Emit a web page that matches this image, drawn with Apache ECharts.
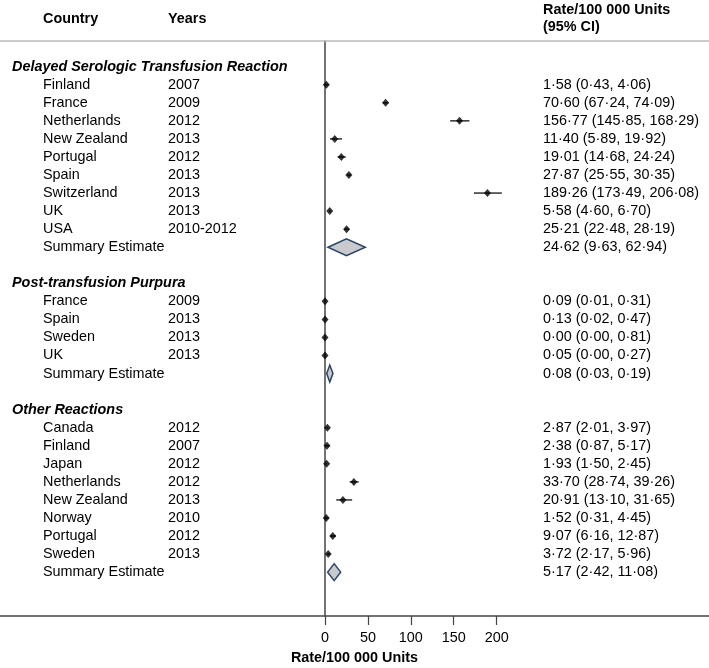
<!DOCTYPE html>
<html>
<head>
<meta charset="utf-8">
<script src="https://cdn.jsdelivr.net/npm/echarts@6/dist/echarts.min.js"></script>
<style>html,body{margin:0;padding:0;background:#fff;}#c{width:709px;height:668px;}</style>
</head>
<body>
<div id="c"></div>
<script>
// ---------- data ----------
const groupTitles = ['Delayed Serologic Transfusion Reaction', 'Post-transfusion Purpura', 'Other Reactions'];

const dstrCountries = ['Finland', 'France', 'Netherlands', 'New Zealand', 'Portugal', 'Spain', 'Switzerland', 'UK', 'USA'];
const dstrYears = ['2007', '2009', '2012', '2013', '2012', '2013', '2013', '2013', '2010-2012'];
const dstrEst = [1.58, 70.60, 156.77, 11.40, 19.01, 27.87, 189.26, 5.58, 25.21];
const dstrLo = [0.43, 67.24, 145.85, 5.89, 14.68, 25.55, 173.49, 4.60, 22.48];
const dstrHi = [4.06, 74.09, 168.29, 19.92, 24.24, 30.35, 206.08, 6.70, 28.19];
const dstrSummary = [24.62, 9.63, 62.94];          // estimate, lo, hi (text)
const dstrDiamond = [3.5, 25, 47];                  // drawn diamond: left, centre, right

const ptpCountries = ['France', 'Spain', 'Sweden', 'UK'];
const ptpYears = ['2009', '2013', '2013', '2013'];
const ptpEst = [0.09, 0.13, 0.00, 0.05];
const ptpLo = [0.01, 0.02, 0.00, 0.00];
const ptpHi = [0.31, 0.47, 0.81, 0.27];
const ptpSummary = [0.08, 0.03, 0.19];
const ptpDiamond = [2, 5.6, 9.3];

const othCountries = ['Canada', 'Finland', 'Japan', 'Netherlands', 'New Zealand', 'Norway', 'Portugal', 'Sweden'];
const othYears = ['2012', '2007', '2012', '2012', '2013', '2010', '2012', '2013'];
const othEst = [2.87, 2.38, 1.93, 33.70, 20.91, 1.52, 9.07, 3.72];
const othLo = [2.01, 0.87, 1.50, 28.74, 13.10, 0.31, 6.16, 2.17];
const othHi = [3.97, 5.17, 2.45, 39.26, 31.65, 4.45, 12.87, 5.96];
const othSummary = [5.17, 2.42, 11.08];
const othDiamond = [3.1, 10.7, 18.3];

const xTicks = [0, 50, 100, 150, 200];
const summaryLabel = 'Summary Estimate';
const axisTitle = 'Rate/100 000 Units';

// ---------- rows ----------
function fmt(v) { return v.toFixed(2).replace('.', '\u00B7'); }
function ciText(e, l, h) { return fmt(e) + ' (' + fmt(l) + ', ' + fmt(h) + ')'; }

const rows = [];
let rowIdx = 0;
function addGroup(title, countries, years, est, lo, hi, summary, diamond) {
  rows.push({ type: 'header', r: rowIdx++, text: title });
  for (let i = 0; i < countries.length; i++) {
    rows.push({ type: 'study', r: rowIdx++, country: countries[i], year: years[i],
      est: est[i], lo: lo[i], hi: hi[i], label: ciText(est[i], lo[i], hi[i]) });
  }
  rows.push({ type: 'summary', r: rowIdx++, label: ciText(summary[0], summary[1], summary[2]), diamond: diamond });
  rowIdx++;
}
addGroup(groupTitles[0], dstrCountries, dstrYears, dstrEst, dstrLo, dstrHi, dstrSummary, dstrDiamond);
addGroup(groupTitles[1], ptpCountries, ptpYears, ptpEst, ptpLo, ptpHi, ptpSummary, ptpDiamond);
addGroup(groupTitles[2], othCountries, othYears, othEst, othLo, othHi, othSummary, othDiamond);

const studies = rows.filter(d => d.type === 'study');
const summaries = rows.filter(d => d.type === 'summary');

const FONT = "'Liberation Sans', Arial, sans-serif";
const FS = 14.4;

function textEl(x, y, text, extra) {
  return { type: 'text', x: x, y: y, silent: true,
    style: Object.assign({ text: text, fontFamily: FONT, fontSize: FS, fill: '#000',
      align: 'left', verticalAlign: 'middle' }, extra || {}) };
}

const chart = echarts.init(document.getElementById('c'), null, { renderer: 'canvas' });

const X_MIN = -378.6, X_MAX = 447.4;

chart.setOption({
  backgroundColor: '#fff',
  animation: false,
  grid: { left: 0, right: 0, top: 41, bottom: 52, containLabel: false, outerBoundsMode: 'none' },
  xAxis: [{
    type: 'value', min: X_MIN, max: X_MAX, position: 'bottom',
    axisLine: { show: true, onZero: false, lineStyle: { color: '#444', width: 1.5 } },
    axisTick: { show: true, customValues: xTicks, length: 9, lineStyle: { color: '#444', width: 1.2 } },
    axisLabel: { show: true, customValues: xTicks, fontSize: FS, fontFamily: FONT, color: '#000', margin: 15 },
    splitLine: { show: false },
    name: axisTitle, nameLocation: 'middle', nameGap: 35,
    nameTextStyle: { fontSize: FS, fontFamily: FONT, fontWeight: 'bold', color: '#000' }
  }, {
    type: 'value', min: X_MIN, max: X_MAX, position: 'top',
    axisLine: { show: true, onZero: false, lineStyle: { color: '#bbb', width: 1.5 } },
    axisTick: { show: false }, axisLabel: { show: false }, splitLine: { show: false }
  }],
  yAxis: {
    type: 'value', inverse: true, min: -1.424, max: 30.43,
    axisLine: { show: true, onZero: true, onZeroAxisIndex: 0, lineStyle: { color: '#444', width: 1.5 } },
    axisTick: { show: false }, axisLabel: { show: false }, splitLine: { show: false }
  },
  graphic: [
    { type: 'text', left: 43, top: 12, style: { text: 'Country', fontFamily: FONT, fontSize: FS, fontWeight: 'bold', fill: '#000' } },
    { type: 'text', left: 168, top: 12, style: { text: 'Years', fontFamily: FONT, fontSize: FS, fontWeight: 'bold', fill: '#000' } },
    { type: 'text', left: 543, top: 3, style: { text: 'Rate/100 000 Units', fontFamily: FONT, fontSize: FS, fontWeight: 'bold', fill: '#000' } },
    { type: 'text', left: 543, top: 20, style: { text: '(95% CI)', fontFamily: FONT, fontSize: FS, fontWeight: 'bold', fill: '#000' } }
  ],
  series: [
    {
      // text columns
      type: 'custom', xAxisIndex: 0, yAxisIndex: 0, clip: false, silent: true,
      data: rows.map(d => [0, d.r]),
      renderItem: function (params, api) {
        const d = rows[params.dataIndex];
        const y = api.coord([0, d.r])[1];
        const children = [];
        if (d.type === 'header') {
          children.push(textEl(12, y, d.text, { fontWeight: 'bold', fontStyle: 'italic' }));
        } else if (d.type === 'study') {
          children.push(textEl(43, y, d.country));
          children.push(textEl(168, y, d.year));
          children.push(textEl(543, y, d.label));
        } else {
          children.push(textEl(43, y, summaryLabel));
          children.push(textEl(543, y, d.label));
        }
        return { type: 'group', children: children };
      }
    },
    {
      // confidence interval lines
      type: 'custom', xAxisIndex: 0, yAxisIndex: 0, silent: true,
      data: studies.map(d => [d.lo, d.hi, d.r]),
      renderItem: function (params, api) {
        const a = api.coord([api.value(0), api.value(2)]);
        const b = api.coord([api.value(1), api.value(2)]);
        return { type: 'line', shape: { x1: a[0], y1: a[1], x2: b[0], y2: b[1] },
          style: { stroke: '#222', lineWidth: 1.4 } };
      }
    },
    {
      type: 'scatter', xAxisIndex: 0, yAxisIndex: 0, silent: true,
      symbol: 'diamond', symbolSize: [7, 8],
      itemStyle: { color: '#000' },
      data: studies.map(d => [d.est, d.r])
    },
    {
      // summary diamonds
      type: 'custom', xAxisIndex: 0, yAxisIndex: 0, silent: true,
      data: summaries.map(d => [d.diamond[0], d.diamond[1], d.diamond[2], d.r]),
      renderItem: function (params, api) {
        const r = api.value(3);
        const L = api.coord([api.value(0), r]);
        const C = api.coord([api.value(1), r]);
        const R = api.coord([api.value(2), r]);
        const h = 8.5;
        return { type: 'polygon',
          shape: { points: [[L[0], L[1]], [C[0], C[1] - h], [R[0], R[1]], [C[0], C[1] + h]] },
          style: { fill: '#c8cacd', stroke: '#2a4468', lineWidth: 1.5 } };
      }
    }
  ]
});
</script>
</body>
</html>
